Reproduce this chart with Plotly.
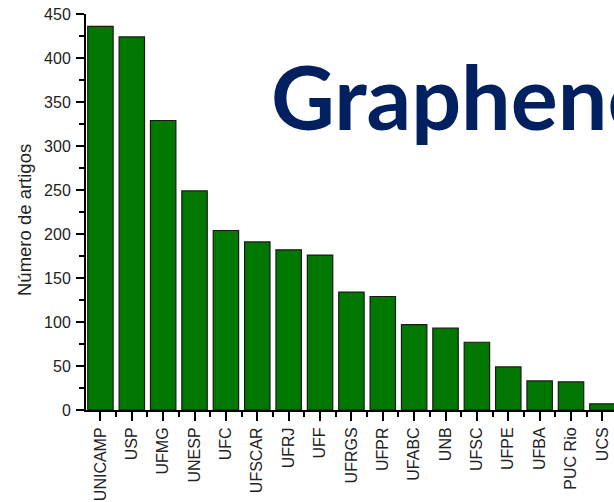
import plotly.graph_objects as go

universities = ["UNICAMP", "USP", "UFMG", "UNESP", "UFC", "UFSCAR", "UFRJ", "UFF",
                "UFRGS", "UFPR", "UFABC", "UNB", "UFSC", "UFPE", "UFBA", "PUC Rio", "UCS"]
articles = [436, 424, 329, 249, 204, 191, 182, 176, 134, 129, 97, 93, 77, 49, 33, 32, 7]

y_title = "Número de artigos"
overlay_text = "Graphene"

positions = list(range(len(universities)))

W, H = 614, 502
L, R, T = 86, 0, 14
plot_bottom = 410
B = H - plot_bottom
plot_w = W - L - R
plot_h = H - T - B


def px_x(x_page):
    return (x_page - L) / plot_w


def px_y(y_page):
    return 1 - (y_page - T) / plot_h


fig = go.Figure()
fig.add_trace(go.Bar(
    x=positions, y=articles,
    width=0.81,
    marker=dict(color="#007700", line=dict(color="#1a1a1a", width=1.2)),
    showlegend=False,
))

tick_font = dict(family="Liberation Sans, Arial, sans-serif", size=16, color="#222222")

fig.update_layout(
    width=W, height=H,
    margin=dict(l=L, r=R, t=T, b=B, pad=0),
    paper_bgcolor="white", plot_bgcolor="white",
    xaxis=dict(
        range=[-0.46, 16.37],
        tickmode="array", tickvals=positions, ticktext=universities,
        tickangle=-90,
        ticks="outside", ticklen=9, tickwidth=1.5, tickcolor="black",
        minor=dict(ticks="outside", ticklen=5, tickwidth=1.5, tickcolor="black",
                   tick0=0.5, dtick=1, showgrid=False),
        showline=True, linecolor="black", linewidth=2,
        showgrid=False, zeroline=False,
        tickfont=tick_font,
        ticklabeloverflow="allow",
    ),
    yaxis=dict(
        range=[0, 450],
        tickmode="linear", tick0=0, dtick=50,
        ticks="outside", ticklen=8, tickwidth=1.5, tickcolor="black",
        minor=dict(ticks="outside", ticklen=5, tickwidth=1.5, tickcolor="black",
                   dtick=25, showgrid=False),
        showline=True, linecolor="black", linewidth=2,
        showgrid=False, zeroline=False,
        tickfont=tick_font,
        ticklabelstandoff=2,
        ticklabeloverflow="allow",
    ),
    annotations=[
        dict(text=y_title, xref="paper", yref="paper",
             x=px_x(24), y=px_y(220), xanchor="center", yanchor="middle",
             textangle=-90, showarrow=False,
             font=dict(family="Liberation Sans, Arial, sans-serif", size=18.5, color="#222222")),
        dict(text="<b>" + overlay_text + "</b>", xref="paper", yref="paper",
             x=px_x(269), y=px_y(41),
             xanchor="left", yanchor="top", showarrow=False,
             font=dict(family="Lato, Open Sans, sans-serif", size=88, color="#002060")),
    ],
)

fig.write_html(
    "out.html",
    config={"displayModeBar": False},
    post_script="document.body.style.margin='0px';document.body.style.overflow='hidden';",
)
